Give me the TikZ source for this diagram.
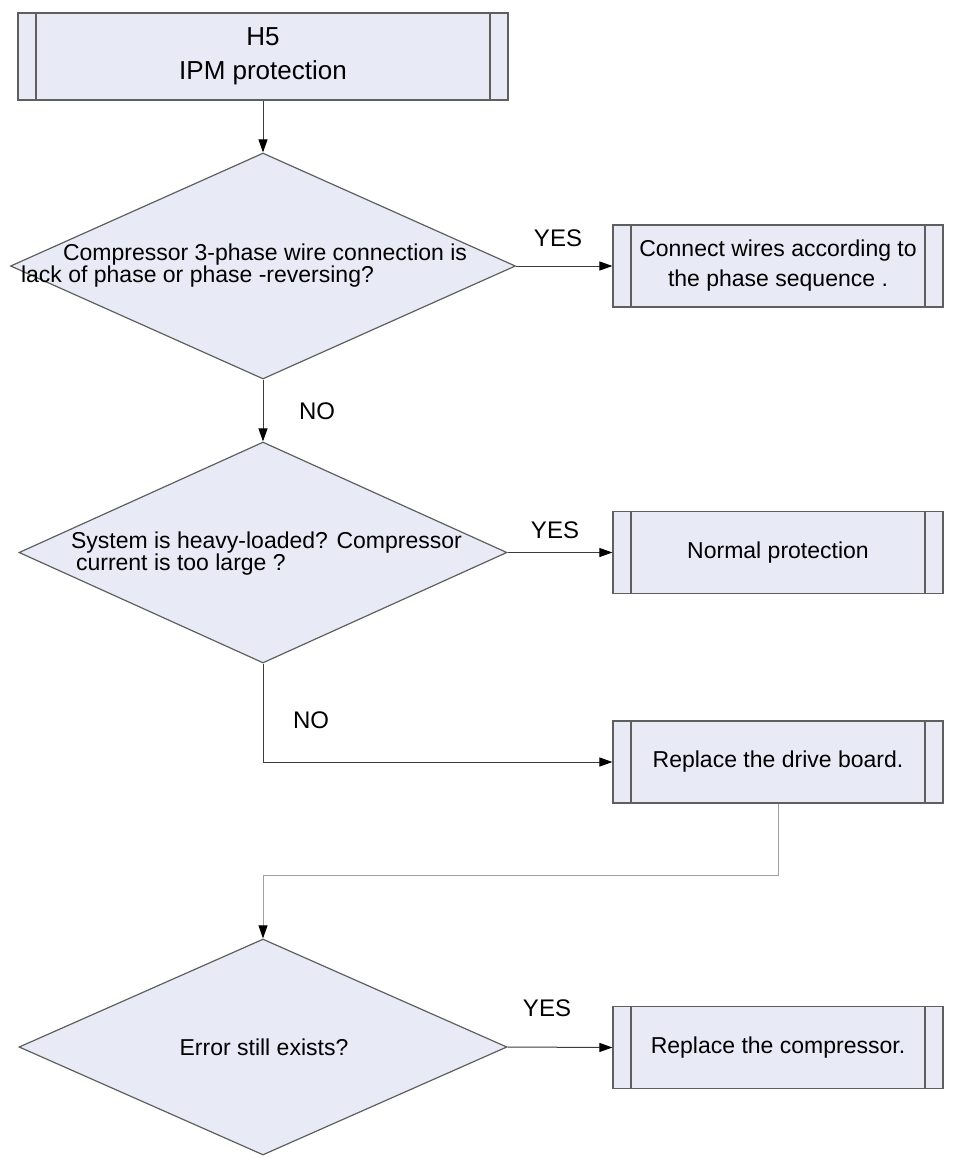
\documentclass[tikz,border=0pt]{standalone}
\usepackage{fontspec}
\setmainfont{Liberation Sans}
\usetikzlibrary{shapes.geometric,arrows.meta}
\definecolor{boxfill}{RGB}{232,234,246}
\definecolor{edgegray}{RGB}{95,95,95}
\definecolor{wiregray}{RGB}{60,60,60}
\definecolor{lightwire}{RGB}{160,160,160}
\begin{document}
\begin{tikzpicture}[x=0.5pt,y=-0.5pt,
  every node/.style={font=\fontsize{11.5}{15}\selectfont},
  proc/.style={draw=edgegray,fill=boxfill,line width=0.6pt,inner sep=0pt,
    minimum width=165pt,minimum height=41pt,align=center,
    path picture={\draw[edgegray,line width=0.6pt]
      ([xshift=9pt]path picture bounding box.north west) -- ([xshift=9pt]path picture bounding box.south west)
      ([xshift=-9pt]path picture bounding box.north east) -- ([xshift=-9pt]path picture bounding box.south east);}},
  decide/.style={diamond,draw=edgegray,fill=boxfill,line width=0.6pt,inner sep=0pt},
  qtext/.style={anchor=west,align=left,font=\fontsize{11.5}{11}\selectfont},
  wire/.style={draw=wiregray,line width=0.5pt},
  arr/.style={wire,-{Triangle[length=6.5pt,width=4.5pt,color=black]}},
  tag/.style={font=\fontsize{12}{14}\selectfont}]
\useasboundingbox (0,0) rectangle (954,1162);
\node[proc,minimum width=245pt,minimum height=43.5pt,font=\fontsize{13}{17}\selectfont] (h5) at (263,56.5) {H5\\IPM protection};
\node[decide,minimum width=252.5pt,minimum height=113pt] (q1) at (263,266) {};
\node[qtext] (q1txt) at (14,266) {\hspace*{21pt}Compressor 3-phase wire connection is\\lack of phase or phase -reversing?};
\node[proc] (fix1) at (778,266) {Connect wires according to\\the phase sequence .};
\node[decide,minimum width=244pt,minimum height=110.5pt] (q2) at (263,552.5) {};
\node[qtext] (q2txt) at (64,554) {System is heavy-loaded? Compressor\\\hspace*{2.5pt}current is too large ?};
\node[proc] (normal) at (778,552.5) {Normal protection};
\node[proc] (board) at (778,762) {Replace the drive board.};
\node[decide,minimum width=244pt,minimum height=108pt] (q3) at (263,1047) {};
\node (q3txt) at (264,1047) {Error still exists?};
\node[proc] (comp) at (778,1047.5) {Replace the compressor.};
\node[tag] (yes1) at (558,238) {YES};
\node[tag] (yes2) at (555,530) {YES};
\node[tag] (yes3) at (547,1008) {YES};
\node[tag] (no1) at (317,411) {NO};
\node[tag] (no2) at (311,720) {NO};
\coordinate (bend) at (778,875);
\draw[arr] (h5.south) -- (q1.north);
\draw[arr] (q1.east) -- (fix1.west);
\draw[arr] (q1.south) -- (q2.north);
\draw[arr] (q2.east) -- (normal.west);
\draw[arr] (q2.south) |- (board.west);
\draw[arr,draw=lightwire] (board.south) -- (bend) -| (q3.north);
\draw[arr] (q3.east) -- (comp.west);
\end{tikzpicture}
\end{document}
